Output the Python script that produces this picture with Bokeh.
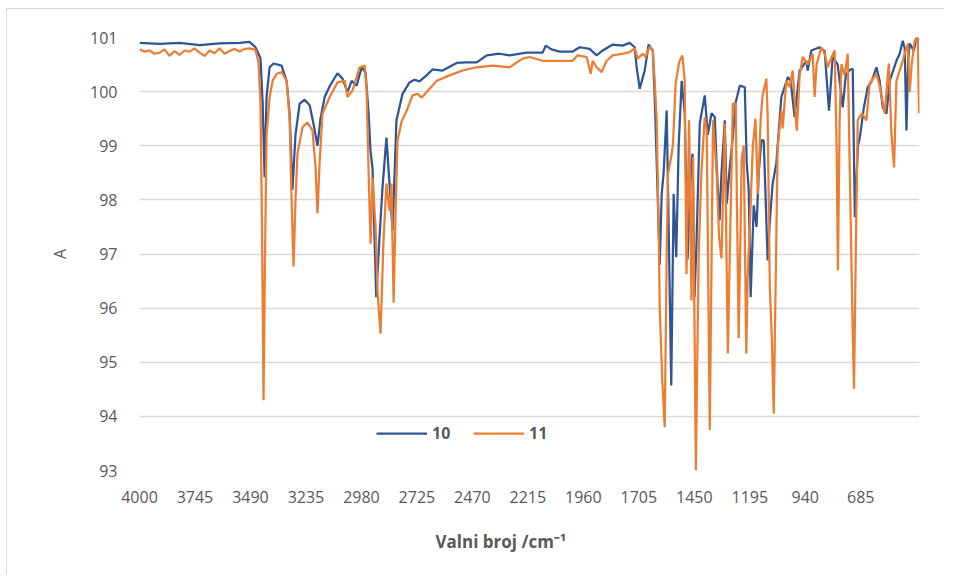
from bokeh.plotting import figure
from bokeh.models import Range1d, FixedTicker, Legend, LegendItem, Title
from bokeh.embed import file_html
from bokeh.resources import INLINE

# ---- data ----
series_names = ["10", "11"]

wn_10 = [4000, 3908, 3816, 3724, 3632, 3540, 3494, 3467, 3444, 3434,
         3425, 3416, 3402, 3384, 3347, 3324, 3310, 3297, 3283, 3264,
         3241, 3218, 3200, 3182, 3168, 3149, 3126, 3090, 3067, 3044,
         3025, 3002, 2979, 2961, 2947, 2938, 2929, 2912, 2897, 2883,
         2865, 2851, 2837, 2819, 2791, 2759, 2736, 2713, 2681, 2653,
         2607, 2542, 2496, 2450, 2404, 2345, 2299, 2221, 2147, 2133,
         2106, 2069, 2009, 1977, 1931, 1899, 1871, 1825, 1779, 1747,
         1724, 1715, 1701, 1678, 1660, 1641, 1632, 1618, 1609, 1600,
         1591, 1577, 1568, 1556, 1545, 1533, 1522, 1508, 1494, 1481,
         1467, 1458, 1449, 1440, 1425, 1402, 1388, 1371, 1356, 1347,
         1334, 1325, 1310, 1301, 1287, 1273, 1260, 1241, 1218, 1209,
         1200, 1191, 1177, 1164, 1154, 1142, 1131, 1122, 1113, 1103,
         1090, 1073, 1050, 1020, 1007, 989, 966, 935, 929, 912,
         874, 851, 831, 814, 791, 768, 754, 736, 722, 712,
         698, 689, 671, 653, 634, 613, 598, 584, 567, 552,
         521, 506, 492, 483, 475, 467, 460, 441, 429, 418]

a_10 = [100.90, 100.88, 100.90, 100.86, 100.89, 100.90, 100.92, 100.82, 100.62, 99.8,
        98.42, 99.9, 100.45, 100.52, 100.48, 100.2, 99.6, 98.19, 99.2, 99.78,
        99.85, 99.75, 99.4, 99.0, 99.5, 99.9, 100.1, 100.34, 100.24, 99.99,
        100.2, 100.11, 100.45, 100.35, 99.6, 98.9, 98.58, 96.2, 97.3, 98.23,
        99.15, 98.3, 97.43, 99.47, 99.96, 100.17, 100.22, 100.19, 100.3, 100.41,
        100.39, 100.53, 100.54, 100.54, 100.67, 100.7, 100.67, 100.72, 100.72, 100.85,
        100.78, 100.74, 100.74, 100.82, 100.79, 100.67, 100.76, 100.87, 100.85, 100.9,
        100.82, 100.45, 100.05, 100.39, 100.87, 100.76, 99.9, 98.05, 96.8, 98.1,
        98.5, 99.65, 97.5, 94.57, 98.11, 96.94, 99.0, 100.2, 99.6, 96.9,
        98.5, 98.85, 96.2, 97.2, 99.41, 99.93, 99.2, 99.6, 99.53, 98.6,
        97.62, 98.5, 99.47, 97.93, 98.6, 99.16, 99.8, 100.11, 100.08, 98.67,
        98.2, 96.2, 97.9, 97.5, 98.5, 99.1, 99.1, 98.0, 96.88, 97.6,
        98.3, 98.67, 99.9, 100.27, 100.2, 99.53, 100.39, 100.57, 100.39, 100.76,
        100.82, 100.75, 99.65, 100.64, 100.5, 99.71, 100.3, 100.4, 100.42, 97.68,
        99.0, 99.16, 99.7, 100.08, 100.2, 100.45, 100.2, 99.71, 99.59, 100.2,
        100.57, 100.7, 100.94, 100.8, 99.28, 100.6, 100.89, 100.75, 101.0, 100.95]

wn_11 = [4000, 3977, 3954, 3931, 3908, 3885, 3862, 3839, 3816, 3793,
         3770, 3747, 3724, 3701, 3678, 3655, 3632, 3609, 3586, 3563,
         3540, 3517, 3494, 3467, 3453, 3444, 3437, 3430, 3423, 3416,
         3402, 3388, 3370, 3347, 3324, 3310, 3301, 3292, 3283, 3274,
         3251, 3228, 3205, 3191, 3182, 3172, 3159, 3126, 3090, 3057,
         3044, 3021, 2988, 2965, 2956, 2947, 2938, 2929, 2915, 2906,
         2892, 2879, 2865, 2851, 2842, 2832, 2823, 2814, 2795, 2772,
         2745, 2722, 2703, 2681, 2634, 2575, 2515, 2450, 2377, 2299,
         2239, 2207, 2147, 2069, 2009, 1986, 1945, 1926, 1917, 1899,
         1876, 1853, 1825, 1779, 1747, 1724, 1710, 1687, 1674, 1655,
         1641, 1632, 1623, 1614, 1609, 1597, 1586, 1577, 1571, 1556,
         1548, 1536, 1520, 1505, 1494, 1486, 1474, 1463, 1456, 1443,
         1430, 1417, 1402, 1393, 1379, 1364, 1348, 1336, 1325, 1310,
         1296, 1273, 1260, 1246, 1232, 1223, 1211, 1205, 1195, 1181,
         1169, 1158, 1145, 1136, 1119, 1113, 1103, 1094, 1085, 1076,
         1067, 1050, 1044, 1027, 1011, 998, 979, 966, 952, 929,
         906, 897, 888, 866, 851, 837, 823, 805, 796, 790,
         782, 774, 759, 745, 733, 724, 716, 708, 699, 680,
         659, 644, 613, 598, 575, 556, 544, 532, 521, 492,
         469, 460, 451, 437, 423, 417]

a_11 = [100.78, 100.74, 100.76, 100.70, 100.72, 100.78, 100.66, 100.75, 100.68, 100.76,
        100.74, 100.80, 100.72, 100.66, 100.76, 100.71, 100.80, 100.70, 100.75, 100.79,
        100.74, 100.79, 100.80, 100.77, 100.55, 99.8, 97.5, 94.3, 97.0, 99.2,
        99.9, 100.2, 100.33, 100.36, 100.2, 99.5, 98.0, 96.77, 98.0, 98.85,
        99.34, 99.43, 99.28, 98.6, 97.75, 98.7, 99.59, 99.9, 100.17, 100.2,
        99.9, 100.02, 100.45, 100.48, 100.0, 98.5, 97.19, 98.41, 97.5, 96.3,
        95.53, 97.2, 98.3, 97.8, 98.3, 96.1, 97.8, 99.1, 99.45, 99.65,
        99.93, 99.96, 99.89, 99.99, 100.2, 100.3, 100.39, 100.45, 100.48, 100.45,
        100.61, 100.64, 100.57, 100.57, 100.57, 100.67, 100.64, 100.33, 100.57, 100.45,
        100.36, 100.57, 100.67, 100.7, 100.73, 100.8, 100.61, 100.7, 100.64, 100.83,
        100.76, 100.2, 99.47, 97.5, 96.02, 94.63, 93.8, 97.0, 98.48, 98.8,
        99.03, 100.14, 100.54, 100.67, 100.2, 96.63, 99.47, 96.14, 98.79, 93.0,
        97.0, 98.54, 99.53, 99.3, 93.75, 99.47, 98.54, 97.31, 96.92, 99.41,
        95.16, 99.78, 99.78, 95.45, 98.77, 99.0, 95.16, 96.55, 97.5, 99.0,
        99.5, 98.11, 99.5, 99.93, 100.24, 99.59, 96.38, 95.5, 94.05, 96.5,
        98.97, 99.65, 99.32, 100.2, 100.08, 100.39, 99.28, 100.3, 100.64, 100.5,
        100.7, 99.9, 100.5, 100.82, 100.7, 100.45, 100.6, 100.76, 99.0, 96.7,
        99.5, 100.51, 100.3, 100.7, 97.99, 96.0, 94.51, 97.0, 99.47, 99.6,
        99.47, 100.15, 100.33, 100.1, 99.6, 100.52, 99.22, 98.6, 100.2, 100.57,
        100.89, 99.99, 100.5, 100.94, 100.98, 99.6]

x_ticks = [4000, 3745, 3490, 3235, 2980, 2725, 2470, 2215, 1960, 1705, 1450, 1195, 940, 685]
y_ticks = [93, 94, 95, 96, 97, 98, 99, 100, 101]
x_title = "Valni broj /cm\u207b\u00b9"
y_title = "A"

# ---- figure ----
FONT = "Open Sans"
GREY = "#595959"

p = figure(width=938, height=567,
           x_range=Range1d(4000, 415), y_range=Range1d(93, 101),
           output_backend="svg", toolbar_location=None,
           min_border_left=132, min_border_right=26,
           min_border_top=28, min_border_bottom=106)
p.outline_line_color = None
p.background_fill_color = "white"
p.border_fill_color = "white"
p.styles = {"border-left": "1px solid #d9d9d9", "border-top": "1px solid #d9d9d9",
            "margin-left": "6px", "margin-top": "8px"}

r10 = p.line(wn_10, a_10, line_color="#2F5597", line_width=2.25)
r11 = p.line(wn_11, a_11, line_color="#ED7D31", line_width=2.25)

p.xgrid.visible = False
p.ygrid.grid_line_color = "#d9d9d9"
p.ygrid.grid_line_width = 1.3

for ax in (p.xaxis, p.yaxis):
    ax.axis_line_color = None
    ax.major_tick_line_color = None
    ax.minor_tick_line_color = None
    ax.major_tick_out = 0
    ax.major_tick_in = 0
    ax.major_label_text_font = FONT
    ax.major_label_text_font_size = "16px"
    ax.major_label_text_color = GREY

p.xaxis.ticker = FixedTicker(ticks=x_ticks)
p.yaxis.ticker = FixedTicker(ticks=y_ticks)
p.xaxis.major_label_standoff = 20
p.yaxis.major_label_standoff = 22

p.yaxis.axis_label = y_title
p.yaxis.axis_label_text_font = FONT
p.yaxis.axis_label_text_font_size = "16px"
p.yaxis.axis_label_text_font_style = "normal"
p.yaxis.axis_label_text_color = GREY
p.yaxis.axis_label_standoff = 16

xt = Title(text=x_title, align="left", offset=296,
           text_font=FONT, text_font_size="17px", text_font_style="bold",
           text_color=GREY, standoff=45)
p.add_layout(xt, "below")

legend = Legend(items=[LegendItem(label=series_names[0], renderers=[r10]),
                       LegendItem(label=series_names[1], renderers=[r11])],
                orientation="horizontal", location=(237, 26),
                glyph_width=51, glyph_height=20, label_standoff=5, spacing=21,
                padding=0, margin=0, background_fill_alpha=0, border_line_color=None,
                label_text_font=FONT, label_text_font_style="bold",
                label_text_font_size="16px", label_text_color=GREY)
p.add_layout(legend)

open("out.html", "w").write(file_html(p, INLINE))
